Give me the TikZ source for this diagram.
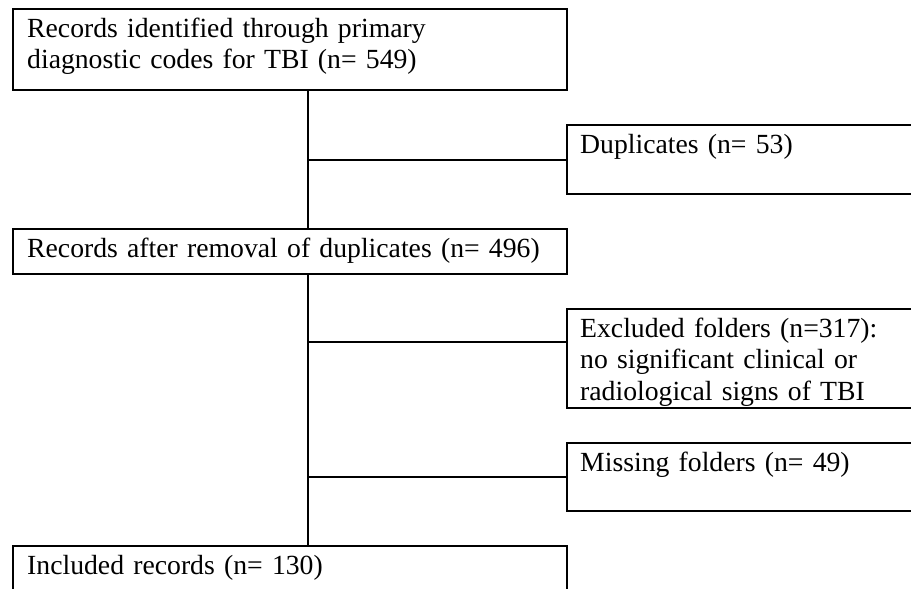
\documentclass[tikz,border=0pt]{standalone}
\usepackage{fontspec}
\setmainfont{Liberation Serif}
\usetikzlibrary{calc}
\begin{document}
\begin{tikzpicture}[x=1pt,y=-1pt,
  box/.style={draw, line width=2pt, anchor=north west, inner sep=0pt, outer sep=0pt},
  txt/.style={anchor=base west, inner sep=0pt, align=left, text width=540pt, font=\fontsize{27.7}{31.5}\selectfont},
  link/.style={line width=2pt}]
\useasboundingbox (0,0) rectangle (911,589);
\clip (0,0) rectangle (911,589);
\node[box, minimum width=554pt, minimum height=81pt] (A) at (13,9) {};
\node[box, minimum width=500pt, minimum height=69pt] (B) at (567,125) {};
\node[box, minimum width=554pt, minimum height=45pt] (C) at (13,229) {};
\node[box, minimum width=500pt, minimum height=99pt] (D) at (567,309) {};
\node[box, minimum width=500pt, minimum height=68pt] (E) at (567,443) {};
\node[box, minimum width=554pt, minimum height=100pt] (F) at (13,546) {};
\node[txt] (tA) at ($(A.north west)+(14,28)$) {Records identified through primary\\diagnostic codes for TBI (n= 549)};
\node[txt] (tB) at ($(B.north west)+(13,28)$) {Duplicates (n= 53)};
\node[txt] (tC) at ($(C.north west)+(14,28)$) {Records after removal of duplicates (n= 496)};
\node[txt] (tD) at ($(D.north west)+(13,28)$) {Excluded folders (n=317):\\no significant clinical or\\radiological signs of TBI};
\node[txt] (tE) at ($(E.north west)+(13,28)$) {Missing folders (n= 49)};
\node[txt] (tF) at ($(F.north west)+(14,28)$) {Included records (n= 130)};
\coordinate (trunk) at (308,0);
\draw[link] (A.south -| trunk) -- (C.north -| trunk);
\draw[link] (B.west -| trunk) -- (B.west);
\draw[link] (C.south -| trunk) -- (F.north -| trunk);
\coordinate (dcon) at ($(D.north west)+(0,33)$);
\draw[link] (dcon -| trunk) -- (dcon);
\draw[link] (E.west -| trunk) -- (E.west);
\end{tikzpicture}
\end{document}
